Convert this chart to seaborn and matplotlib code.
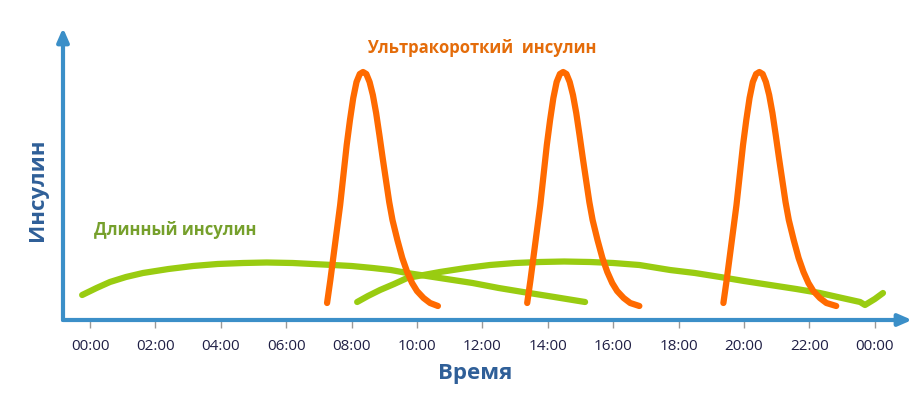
import matplotlib
matplotlib.use("Agg")
import matplotlib.pyplot as plt
import seaborn as sns
import pandas as pd

# hours of day and insulin level (arbitrary units)
peak_v = [17, 40, 65, 90, 115, 145, 175, 200, 222, 238, 246, 248, 246, 238, 225,
          207, 185, 162, 140, 118, 100, 80, 62, 48, 37, 29, 22, 17, 14]
peak1_h = [7.25, 7.35, 7.45, 7.55, 7.65, 7.75, 7.85, 7.95, 8.05, 8.15, 8.25, 8.35, 8.45, 8.55, 8.65,
           8.75, 8.85, 8.95, 9.05, 9.15, 9.25, 9.40, 9.55, 9.70, 9.85, 10.00, 10.20, 10.40, 10.64]
peak2_h = [13.37, 13.47, 13.57, 13.67, 13.77, 13.87, 13.97, 14.07, 14.17, 14.27, 14.37, 14.47, 14.57, 14.67, 14.77,
           14.87, 14.97, 15.07, 15.17, 15.27, 15.37, 15.52, 15.67, 15.82, 15.97, 16.12, 16.32, 16.52, 16.80]
peak3_h = [19.37, 19.47, 19.57, 19.67, 19.77, 19.87, 19.97, 20.07, 20.17, 20.27, 20.37, 20.47, 20.57, 20.67, 20.77,
           20.87, 20.97, 21.07, 21.17, 21.27, 21.37, 21.52, 21.67, 21.82, 21.97, 22.12, 22.32, 22.52, 22.82]

long1_h = [-0.24, 0.2, 0.61, 1.1, 1.62, 2.4, 3.15, 3.9, 4.68, 5.4, 6.2, 6.8, 7.43, 8.0,
           8.65, 9.2, 9.7, 10.7, 11.7, 12.5, 13.24, 14.2, 15.14]
long1_v = [25, 32, 38, 43, 47, 51, 54, 56, 57, 57.5, 57, 56, 55, 54,
           52, 50, 47, 42, 37, 32, 28, 23, 18]
long2_h = [8.17, 8.5, 8.87, 9.3, 9.7, 10.2, 10.7, 11.5, 12.23, 13.0, 13.76, 14.5, 15.29, 16.0,
           16.8, 17.74, 18.5, 19.27, 20.0, 20.8, 21.6, 22.32, 23.0, 23.55, 23.7, 24.0, 24.25]
long2_v = [18, 24, 30, 36, 42, 45, 48, 52, 55, 57, 58, 58.5, 58, 57,
           55, 50, 47, 43, 39, 35, 31, 27, 22, 18, 15, 21, 27]

tick_hours = list(range(0, 25, 2))
tick_labels = ["00:00", "02:00", "04:00", "06:00", "08:00", "10:00", "12:00",
               "14:00", "16:00", "18:00", "20:00", "22:00", "00:00"]

ORANGE = "#ff6a00"
GREEN = "#99cc11"
BLUE = "#3b8fc8"

sns.set_style("white")
plt.rcParams["font.family"] = ["Open Sans", "DejaVu Sans"]

fig = plt.figure(figsize=(9.23, 4.0), dpi=100)
ax = fig.add_axes([63 / 923, 80 / 400, (912 - 63) / 923, (320 - 28) / 400])

for h, v in [(long1_h, long1_v), (long2_h, long2_v)]:
    df = pd.DataFrame({"h": h, "v": v})
    sns.lineplot(data=df, x="h", y="v", ax=ax, color=GREEN, lw=4.5,
                 sort=False, solid_capstyle="round", solid_joinstyle="round")
for h in [peak1_h, peak2_h, peak3_h]:
    df = pd.DataFrame({"h": h, "v": peak_v})
    sns.lineplot(data=df, x="h", y="v", ax=ax, color=ORANGE, lw=4.5,
                 sort=False, solid_capstyle="round", solid_joinstyle="round")

ax.set_xlim(-27 / 32.7, (912 - 90) / 32.7)
ax.set_ylim(0, 292)
for s in ax.spines.values():
    s.set_visible(False)

ax.set_xticks(tick_hours)
ax.set_xticklabels(tick_labels, fontsize=11, color="#1f1f45")
ax.tick_params(axis="x", length=6, width=1, color="#999999", pad=8, bottom=True)
ax.set_yticks([])
ax.set_xlabel("")
ax.set_ylabel("")

# axes drawn as arrows
ax.annotate("", xy=(1.0, 0), xytext=(0, 0), xycoords="axes fraction",
            arrowprops=dict(arrowstyle="-|>,head_length=0.8,head_width=0.35",
                            color=BLUE, lw=3, shrinkA=0, shrinkB=0))
ax.annotate("", xy=(0, 1.0), xytext=(0, 0), xycoords="axes fraction",
            arrowprops=dict(arrowstyle="-|>,head_length=0.8,head_width=0.35",
                            color=BLUE, lw=3, shrinkA=0, shrinkB=0))

fig.text(475 / 923, 1 - 373 / 400, "Время", ha="center", va="center",
         fontsize=16, fontweight="bold", color="#2f5f98")
fig.text(37 / 923, 1 - 190 / 400, "Инсулин", ha="center", va="center",
         rotation=90, fontsize=16, fontweight="bold", color="#2f5f98")
fig.text(482 / 923, 1 - 48 / 400, "Ультракороткий  инсулин", ha="center", va="center",
         fontsize=12, fontweight="bold", color="#e46c0a")
fig.text(175 / 923, 1 - 230 / 400, "Длинный инсулин", ha="center", va="center",
         fontsize=12, fontweight="bold", color="#76a02c")

fig.savefig("out.png", dpi=100)
